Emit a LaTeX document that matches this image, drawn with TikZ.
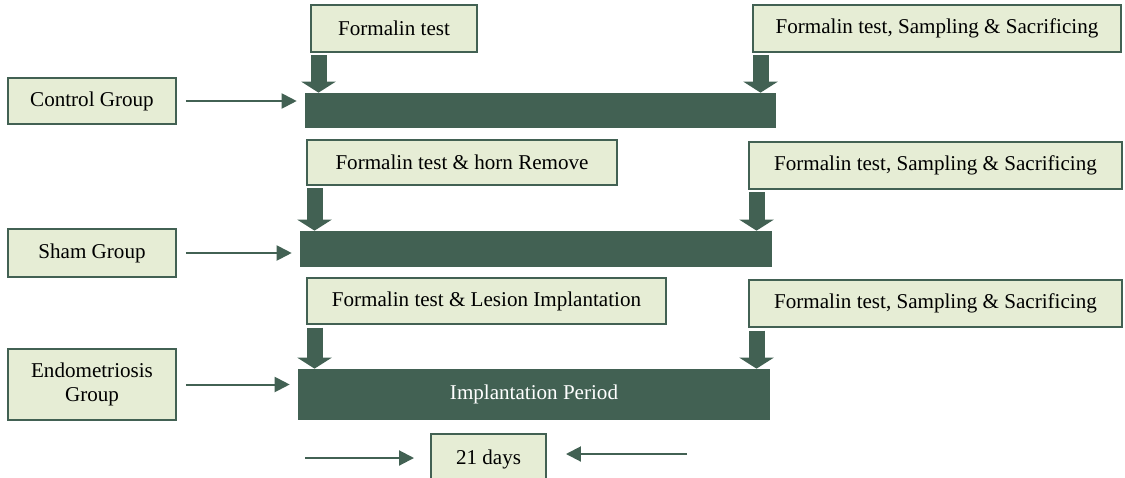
\documentclass[tikz,border=0pt]{standalone}
\usepackage{fontspec}
\setmainfont{Liberation Serif}
\usetikzlibrary{arrows.meta}
\definecolor{bardark}{RGB}{66,97,83}
\definecolor{boxlight}{RGB}{230,237,213}
\tikzset{
  lbox/.style={draw=bardark,line width=0.04cm,fill=boxlight,inner sep=0pt,align=center,font=\fontsize{12}{14}\selectfont},
  pbar/.style={fill=bardark,inner sep=0pt,text=white,font=\fontsize{12}{14}\selectfont},
  thinarr/.style={draw=bardark,line width=0.04cm,-{Triangle[length=0.3cm,width=0.3cm]}},
  fatarr/.style={draw=bardark,line width=0.32cm,-{Triangle[length=0.22cm,width=0.68cm]}}
}
\begin{document}
\begin{tikzpicture}[x=0.02cm,y=-0.02cm]
\useasboundingbox (0,0) rectangle (1125,477);
% groups
\node[lbox,minimum width=3.36cm,minimum height=0.92cm] (g1) at (92,101) {Control Group};
\node[lbox,minimum width=3.36cm,minimum height=0.96cm] (g2) at (92,253) {Sham Group};
\node[lbox,minimum width=3.36cm,minimum height=1.42cm] (g3) at (92,384.5) {Endometriosis\\Group};
% periods
\node[pbar,minimum width=9.42cm,minimum height=0.70cm] (b1) at (540.5,110.5) {};
\node[pbar,minimum width=9.44cm,minimum height=0.72cm] (b2) at (536,249) {};
\node[pbar,minimum width=9.44cm,minimum height=1.02cm] (b3) at (534,394.5) {Implantation Period};
% first tests
\node[lbox,minimum width=3.32cm,minimum height=0.94cm] (t1) at (394,28.5) {Formalin test};
\node[lbox,minimum width=6.2cm,minimum height=0.9cm] (t2) at (462,162.5) {Formalin test \& horn Remove};
\node[lbox,minimum width=7.18cm,minimum height=0.92cm] (t3) at (486.5,301) {Formalin test \& Lesion Implantation};
% last tests
\node[lbox,minimum width=7.36cm,minimum height=0.94cm] (s1) at (937,28.5) {Formalin test, Sampling \& Sacrificing};
\node[lbox,minimum width=7.46cm,minimum height=0.94cm] (s2) at (935.5,165.5) {Formalin test, Sampling \& Sacrificing};
\node[lbox,minimum width=7.46cm,minimum height=0.94cm] (s3) at (935.5,303.5) {Formalin test, Sampling \& Sacrificing};
% duration
\node[lbox,minimum width=2.3cm,minimum height=1.0cm] (days) at (488.5,459) {21 days};
\coordinate (dl) at (305,458);
\coordinate (dr) at (687,454);
\foreach \r in {1,2,3}{
  \draw[thinarr,shorten <=0.18cm,shorten >=0.16cm] (g\r.east) -- (g\r.east -| b\r.west);
  \draw[fatarr,shorten <=0.05cm] ([xshift=0.17cm]t\r.south west) -- ([xshift=0.17cm]t\r.south west |- b\r.north);
  \draw[fatarr,shorten <=0.05cm] ([xshift=0.17cm]s\r.south west) -- ([xshift=0.17cm]s\r.south west |- b\r.north);
}
\draw[thinarr,shorten >=0.32cm] (dl) -- (dl -| days.west);
\draw[thinarr,shorten >=0.38cm] (dr) -- (dr -| days.east);
\end{tikzpicture}
\end{document}
